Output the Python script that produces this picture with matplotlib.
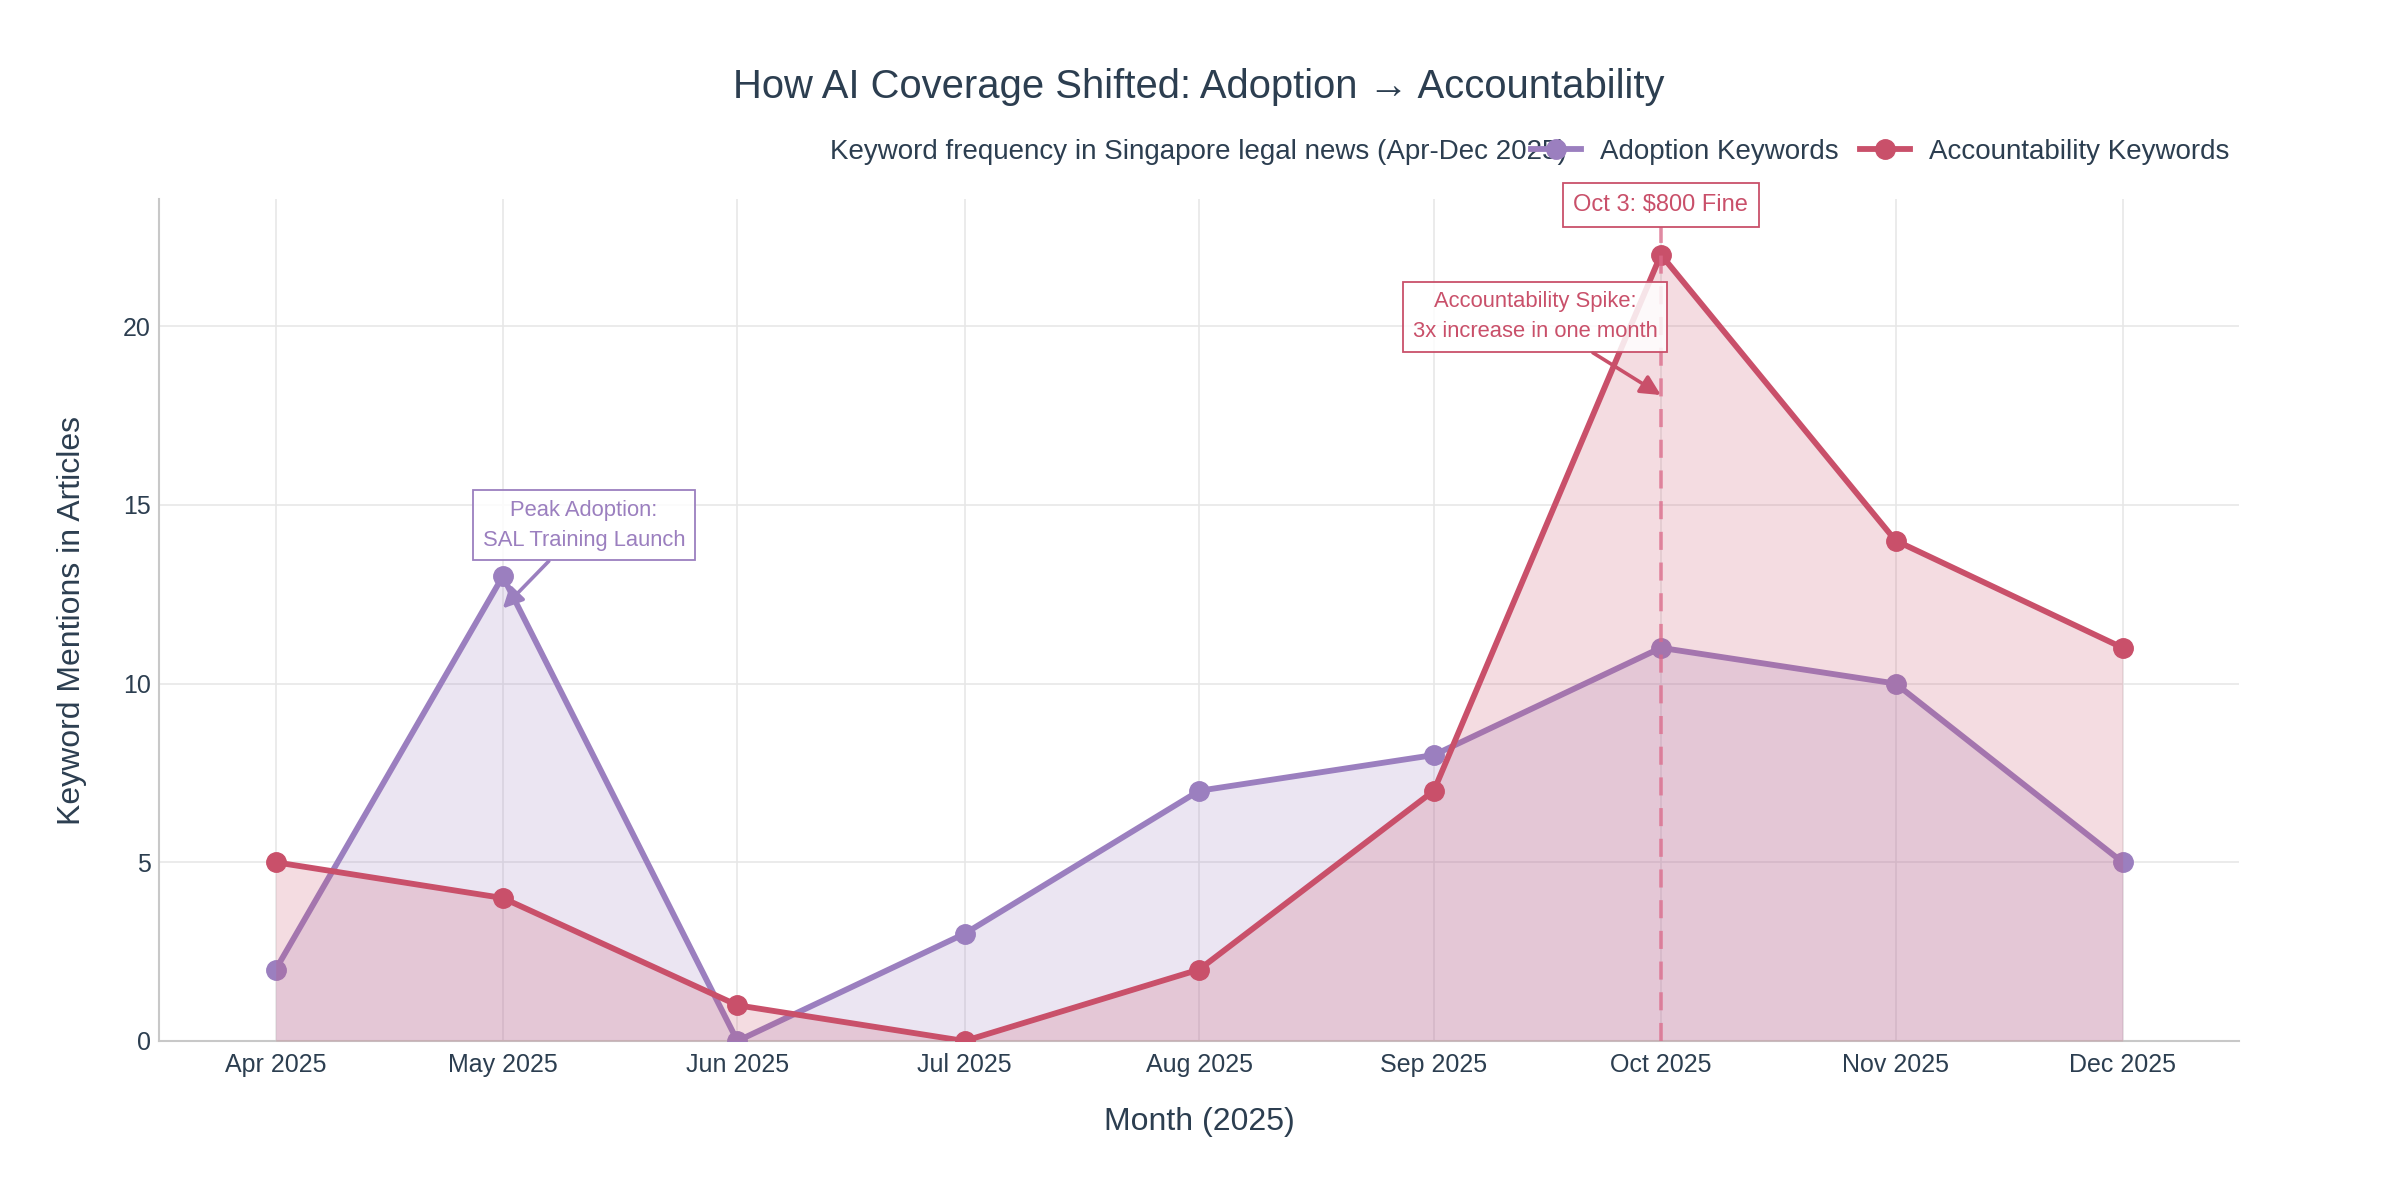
import matplotlib
matplotlib.use('Agg')
import matplotlib.pyplot as plt
import matplotlib.dates as mdates
import matplotlib.transforms as mtransforms
import numpy as np
from datetime import datetime, timedelta

# ---- data ----
months = ['2025-04-01', '2025-05-01', '2025-06-01', '2025-07-01', '2025-08-01',
          '2025-09-01', '2025-10-01', '2025-11-01', '2025-12-01']
tick_labels = ['Apr 2025', 'May 2025', 'Jun 2025', 'Jul 2025', 'Aug 2025',
               'Sep 2025', 'Oct 2025', 'Nov 2025', 'Dec 2025']
adoption = [2, 13, 0, 3, 7, 8, 11, 10, 5]
accountability = [5, 4, 1, 0, 2, 7, 22, 14, 11]
y_ticks = [0, 5, 10, 15, 20]

title = 'How AI Coverage Shifted: Adoption \u2192 Accountability'
subtitle = 'Keyword frequency in Singapore legal news (Apr-Dec 2025)'
event_date = '2025-10-01'
event_label = 'Oct 3: $800 Fine'

# ---- style ----
plt.rcParams['font.family'] = ['Liberation Sans', 'DejaVu Sans']
TXT = '#2c3e50'
PURPLE = '#9b7fbf'
RED = '#c9506a'
GRID = '#e6e6e6'

x = [datetime.strptime(m, '%Y-%m-%d') for m in months]
xn = mdates.date2num(x)

fig = plt.figure(figsize=(24, 12), dpi=100)
ax = fig.add_axes([0.0663, 0.1325, 0.8667, 0.7015])

ax.fill_between(x, 0, adoption, color=PURPLE, alpha=0.2, lw=0, zorder=2)
ax.plot(x, adoption, color=PURPLE, lw=4.2, marker='o', ms=14,
        label='Adoption Keywords', zorder=3)
ax.fill_between(x, 0, accountability, color=RED, alpha=0.2, lw=0, zorder=4)
ax.plot(x, accountability, color=RED, lw=4.2, marker='o', ms=14,
        label='Accountability Keywords', zorder=5)

ev = mdates.date2num(datetime.strptime(event_date, '%Y-%m-%d'))
ax.axvline(ev, color='#dc6a8a', alpha=0.75, lw=2.6, dashes=(5, 3.5), zorder=6)

ax.set_xlim(xn[0] - 15.4, xn[-1] + 15.4)
ax.set_ylim(0, 23.55)
ax.set_xticks(xn)
ax.set_xticklabels(tick_labels)
ax.set_yticks(y_ticks)
ax.tick_params(axis='both', length=0, labelsize=18, labelcolor=TXT)
ax.tick_params(axis='x', pad=22.5)
ax.tick_params(axis='y', pad=6)
for lab in ax.get_xticklabels():
    lab.set_verticalalignment('baseline')
ax.grid(True, color=GRID, lw=1.1)
ax.set_axisbelow(True)
for s in ['top', 'right']:
    ax.spines[s].set_visible(False)
for s in ['left', 'bottom']:
    ax.spines[s].set_color('#c8c8c8')
    ax.spines[s].set_linewidth(1.5)

# annotations
ax.annotate('Peak Adoption:\nSAL Training Launch',
            xy=(xn[1], 12.1), xytext=(xn[1] + 10.7, 14.43),
            textcoords='data', ha='center', va='center', fontsize=15.8,
            color=PURPLE, linespacing=1.55,
            bbox=dict(boxstyle='square,pad=0.45', fc=(1, 1, 1, 0.85),
                      ec=PURPLE, lw=1.3),
            arrowprops=dict(arrowstyle='-|>', color=PURPLE, lw=2.6,
                            mutation_scale=30, shrinkA=0, shrinkB=0),
            zorder=8)

ax.annotate('Accountability Spike:\n3x increase in one month',
            xy=(ev, 18.07), xytext=(ev - 16.6, 20.26),
            textcoords='data', ha='center', va='center', fontsize=15.8,
            color=RED, linespacing=1.55,
            bbox=dict(boxstyle='square,pad=0.45', fc=(1, 1, 1, 0.85),
                      ec=RED, lw=1.3),
            arrowprops=dict(arrowstyle='-|>', color=RED, lw=2.6,
                            mutation_scale=30, shrinkA=0, shrinkB=0),
            zorder=8)

trans = mtransforms.blended_transform_factory(ax.transData, ax.transAxes)
ax.text(ev, 0.993, event_label, transform=trans, ha='center', va='center',
        fontsize=17, color=RED, clip_on=False, zorder=9,
        bbox=dict(boxstyle='square,pad=0.45', fc='white', ec=RED, lw=1.3))

# titles
fig.text(0.4994, 0.9275, title, ha='center', va='center', fontsize=28.8, color=TXT)
fig.text(0.4994, 0.8737, subtitle, ha='center', va='center', fontsize=20, color=TXT)
fig.text(0.4997, 0.065, 'Month (2025)', ha='center', va='center', fontsize=23, color=TXT)
fig.text(0.030, (0.1325 + 0.834) / 2, 'Keyword Mentions in Articles', ha='center',
         va='center', rotation=90, fontsize=23, color=TXT)

leg = fig.legend(loc='center right', bbox_to_anchor=(0.929, 0.8737), ncol=2,
                 frameon=False, fontsize=20, handlelength=1.8, handletextpad=0.7,
                 columnspacing=0.75, borderpad=0, borderaxespad=0)
for t in leg.get_texts():
    t.set_color(TXT)

fig.savefig('out.png', dpi=100, facecolor='white')
